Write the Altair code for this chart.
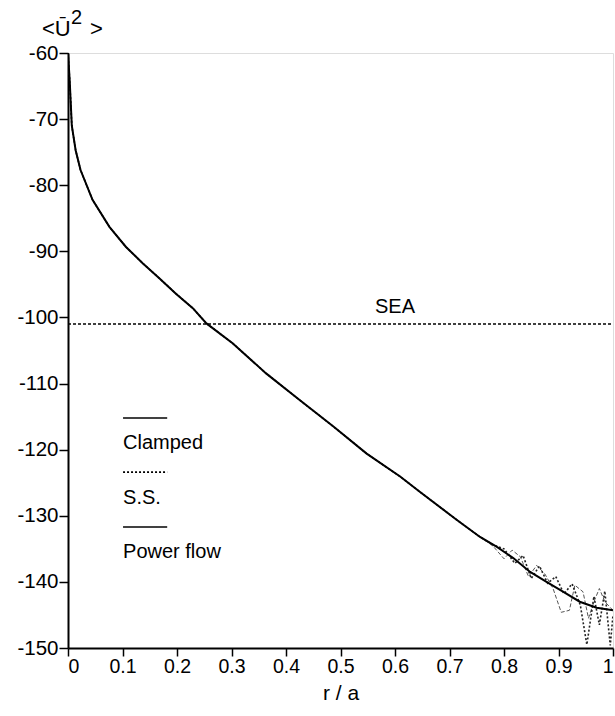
import altair as alt
import pandas as pd

# Power flow curve (solid)
pf_r = [0.0, 0.003, 0.007, 0.014, 0.023, 0.045, 0.076, 0.106, 0.137, 0.168, 0.198,
        0.229, 0.254, 0.302, 0.364, 0.425, 0.487, 0.548, 0.610, 0.646, 0.713, 0.756,
        0.787, 0.817, 0.848, 0.878, 0.909, 0.939, 0.970, 1.0]
pf_u = [-60.0, -64.0, -71.0, -74.7, -77.7, -82.2, -86.3, -89.3, -91.8, -94.1, -96.4,
        -98.6, -100.9, -103.9, -108.5, -112.5, -116.5, -120.6, -124.1, -126.4, -130.6, -133.2,
        -134.7, -136.4, -138.5, -140.0, -141.5, -143.0, -143.9, -144.3]

# Clamped (thin) – follows power flow, oscillates near the edge
cl_r = [0.0, 0.003, 0.007, 0.014, 0.023, 0.045, 0.076, 0.106, 0.137, 0.168, 0.198,
        0.229, 0.254, 0.302, 0.364, 0.425, 0.487, 0.548, 0.610, 0.646, 0.713, 0.756,
        0.78, 0.80, 0.815, 0.83, 0.845, 0.86, 0.875, 0.89, 0.905, 0.92, 0.93, 0.945,
        0.955, 0.965, 0.975, 0.985, 1.0]
cl_u = [-60.0, -64.0, -71.0, -74.7, -77.7, -82.2, -86.3, -89.3, -91.8, -94.1, -96.4,
        -98.6, -100.9, -103.9, -108.5, -112.5, -116.5, -120.6, -124.1, -126.4, -130.6, -133.2,
        -134.6, -136.5, -135.2, -136.2, -139.2, -137.5, -138.8, -141.0, -144.6, -144.3, -140.5, -141.5,
        -145.5, -143.0, -141.0, -143.0, -144.3]

# S.S. (dotted)
ss_r = [0.0, 0.003, 0.007, 0.014, 0.023, 0.045, 0.076, 0.106, 0.137, 0.168, 0.198,
        0.229, 0.254, 0.302, 0.364, 0.425, 0.487, 0.548, 0.610, 0.646, 0.713, 0.756,
        0.78, 0.80, 0.82, 0.835, 0.85, 0.865, 0.88, 0.895, 0.91, 0.925, 0.94, 0.952,
        0.965, 0.975, 0.985, 0.995, 1.0]
ss_u = [-60.0, -64.0, -71.0, -74.7, -77.7, -82.2, -86.3, -89.3, -91.8, -94.1, -96.4,
        -98.6, -100.9, -103.9, -108.5, -112.5, -116.5, -120.6, -124.1, -126.4, -130.6, -133.2,
        -134.4, -135.0, -137.2, -136.0, -139.5, -137.6, -140.2, -139.2, -141.8, -140.3, -143.5, -149.5,
        -142.2, -146.5, -141.4, -149.6, -145.0]

sea_level = -101.0
sea_label = "SEA"
sea_label_r = 0.60

legend_labels = ["Clamped", "S.S.", "Power flow"]
legend_line_u = [-115.2, -123.4, -131.7]
legend_text_u = [-119.0, -127.3, -135.5]
legend_r0 = 0.101
legend_r1 = 0.182

x_ticks = [0, 0.1, 0.2, 0.3, 0.4, 0.5, 0.6, 0.7, 0.8, 0.9, 1]
y_ticks = [-60, -70, -80, -90, -100, -110, -120, -130, -140, -150]

# y-axis title pieces: "<Ū", superscript "2", ">"
ytitle_parts = ["<Ū", "2", ">"]

FONT = "Liberation Sans"

xs = alt.Scale(domain=[0, 1], nice=False, zero=False)
ys = alt.Scale(domain=[-150, -60], nice=False, zero=False)

x_axis = alt.Axis(values=x_ticks, title="r / a", grid=False, tickSize=8,
                  labelExpr="datum.value == 0 ? '0' : datum.value == 1 ? '1' : format(datum.value, '.1f')",
                  domainColor="black", tickColor="black", domainWidth=2, tickWidth=1.5,
                  labelFontSize=19.5, labelColor="black", labelFont=FONT, labelPadding=1,
                  titleFontSize=21, titleFont=FONT, titleFontWeight="normal", titleColor="black",
                  titlePadding=7)
y_axis = alt.Axis(values=y_ticks, title=None, grid=False, tickSize=9,
                  labelExpr="'' + datum.value",
                  domainColor="black", tickColor="black", domainWidth=2, tickWidth=1.5,
                  labelFontSize=20.5, labelColor="black", labelFont=FONT, labelPadding=1)

pf_df = pd.DataFrame({"r": pf_r, "u": pf_u})
cl_df = pd.DataFrame({"r": cl_r, "u": cl_u})
ss_df = pd.DataFrame({"r": ss_r, "u": ss_u})

base_x = alt.X("r:Q", scale=xs, axis=x_axis)
base_y = alt.Y("u:Q", scale=ys, axis=y_axis)

cl_line = alt.Chart(cl_df).mark_line(color="#555555", strokeWidth=1, strokeDash=[4, 2], clip=True).encode(
    x=base_x, y=base_y)
ss_line = alt.Chart(ss_df).mark_line(color="#222222", strokeWidth=1.6, strokeDash=[2, 2], clip=True).encode(
    x="r:Q", y="u:Q")
pf_line = alt.Chart(pf_df).mark_line(color="black", strokeWidth=2, clip=True).encode(
    x="r:Q", y="u:Q")

sea_df = pd.DataFrame({"r0": [0.0], "r1": [1.0], "u": [sea_level], "label": [sea_label], "rl": [sea_label_r]})
sea_rule = alt.Chart(sea_df).mark_rule(color="black", strokeWidth=1.5, strokeDash=[3, 2]).encode(
    x="r0:Q", x2="r1:Q", y="u:Q")
sea_text = alt.Chart(sea_df).mark_text(font=FONT, fontSize=20, color="black", baseline="bottom", dy=-7).encode(
    x="rl:Q", y="u:Q", text="label:N")

leg_df = pd.DataFrame({
    "label": legend_labels,
    "lu": legend_line_u,
    "tu": legend_text_u,
    "r0": [legend_r0] * 3,
    "r1": [legend_r1] * 3,
    "dash": ["solid", "dotted", "solid"],
})
leg_lines = alt.Chart(leg_df).mark_rule(color="black", strokeWidth=1.6).encode(
    x="r0:Q", x2="r1:Q", y="lu:Q",
    strokeDash=alt.StrokeDash("dash:N", scale=alt.Scale(domain=["solid", "dotted"], range=[[1, 0], [2, 2]]), legend=None))
leg_text = alt.Chart(leg_df).mark_text(font=FONT, fontSize=20, color="black", align="left", baseline="middle").encode(
    x="r0:Q", y="tu:Q", text="label:N")

t_df = pd.DataFrame({"t": ytitle_parts})
yt1 = alt.Chart(t_df).transform_filter(alt.datum.t == ytitle_parts[0]).mark_text(
    font=FONT, fontSize=22, color="black", align="left", baseline="alphabetic").encode(
    x=alt.value(-26), y=alt.value(-17), text="t:N")
yt2 = alt.Chart(t_df).transform_filter(alt.datum.t == ytitle_parts[1]).mark_text(
    font=FONT, fontSize=20, color="black", align="left", baseline="alphabetic").encode(
    x=alt.value(3), y=alt.value(-29), text="t:N")
yt3 = alt.Chart(t_df).transform_filter(alt.datum.t == ytitle_parts[2]).mark_text(
    font=FONT, fontSize=22, color="black", align="left", baseline="alphabetic").encode(
    x=alt.value(22), y=alt.value(-17), text="t:N")

chart = alt.layer(cl_line, ss_line, pf_line, sea_rule, sea_text, leg_lines, leg_text, yt1, yt2, yt3).properties(
    width=545, height=595,
    autosize=alt.AutoSizeParams(type="none"),
    padding={"left": 68, "top": 53, "right": 2, "bottom": 68},
).configure_view(stroke="black", strokeWidth=1.5).configure(background="white")

chart.save("out.html", embed_options={"renderer": "svg", "actions": False})
